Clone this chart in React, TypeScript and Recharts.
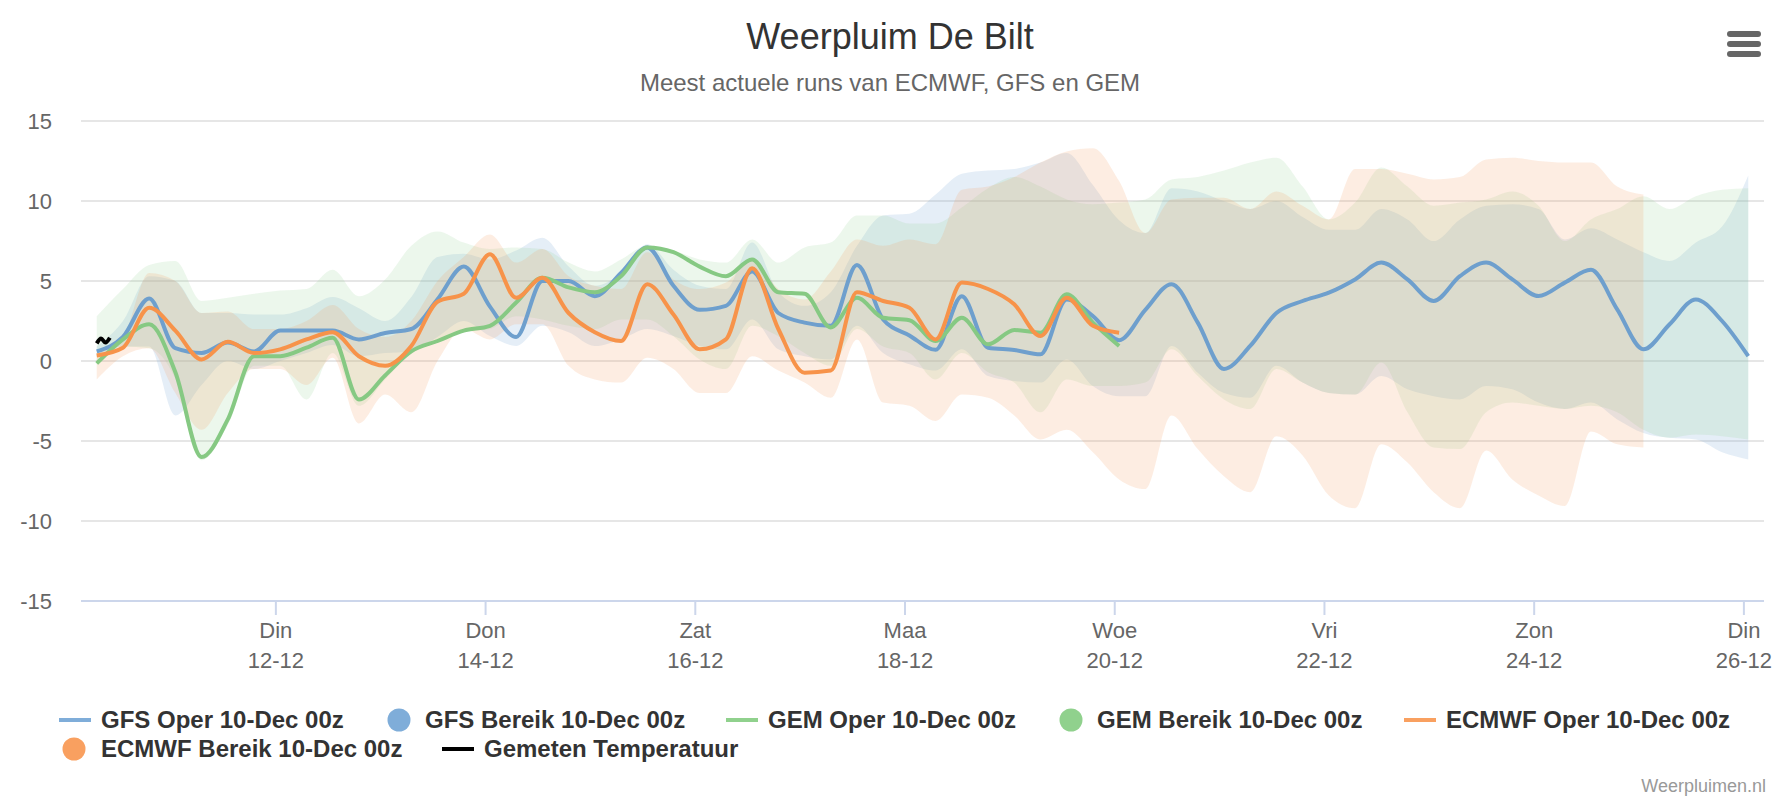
import React from 'react';
import { ComposedChart, Line, Area, XAxis, YAxis, CartesianGrid } from 'recharts';

// hours since 10-12 00:00
const hours = [7,13,19,25,31,37,43,49,55,61,67,73,79,85,91,97,103,109,115,121,127,133,139,145,151,157,163,169,175,181,187,193,199,205,211,217,223,229,235,241,247,253,259,265,271,277,283,289,295,301,307,313,319,325,331,337,343,349,355,361,367,373,379,385];

const gfsOper = [0.6,1.5,3.9,0.8,0.5,1.15,0.6,1.9,1.9,1.9,1.35,1.75,2.0,3.85,5.9,3.4,1.5,5.0,5.0,4.05,5.5,7.1,4.7,3.2,3.45,5.6,3.0,2.4,2.2,6.0,2.6,1.6,0.7,4.05,0.83,0.69,0.42,3.85,2.8,1.3,3.2,4.8,2.4,-0.5,0.94,3.0,3.75,4.27,5.1,6.15,5.1,3.75,5.3,6.15,5.1,4.06,4.9,5.7,3.23,0.73,2.3,3.85,2.5,0.3];
const gfsLow = [0.3,0.9,0.9,-3.4,-1.5,0.0,-0.5,0.0,0.5,1.0,0.3,0.5,0.6,1.5,2.5,1.56,0.94,2.2,1.8,0.94,1.35,2.0,1.56,0.94,0.73,2.6,0.73,0.3,0.1,2.2,0.5,-0.2,-0.6,0.73,-0.94,-1.25,-1.35,0.1,-1.56,-2.2,-2.2,0.94,-0.73,-2.0,-2.3,-0.3,-1.35,-2.0,-2.1,-0.94,-1.77,-2.2,-2.4,-1.56,-1.77,-2.6,-3.0,-2.6,-3.65,-4.5,-4.8,-4.9,-5.7,-6.15];
const gfsHigh = [0.9,2.5,5.3,5.0,3.0,3.0,2.9,2.9,3.3,4.0,3.3,2.5,4.0,6.5,6.7,6.35,6.9,7.7,5.9,4.7,5.5,7.3,5.7,4.7,4.5,7.4,4.3,3.45,4.3,7.2,9.1,9.2,10.4,11.7,11.9,12.0,12.4,13.0,11.0,8.8,8.0,10.8,10.6,10.0,9.5,10.0,9.0,8.2,8.2,9.5,8.85,7.5,8.85,9.7,9.8,9.5,7.6,8.3,7.6,6.8,6.25,7.4,8.4,11.6];

const gemOper = [-0.15,1.35,2.3,-0.7,-6.0,-3.65,0.3,0.3,0.83,1.45,-2.4,-0.9,0.6,1.25,1.9,2.2,3.65,5.2,4.6,4.3,5.3,7.1,6.8,5.9,5.3,6.35,4.3,4.2,2.1,3.95,2.7,2.55,1.25,2.7,1.04,1.94,1.77,4.17,2.4,0.94];
const gemLow = [-0.2,0.9,0.8,-1.1,-6.2,-4.0,-0.3,-0.3,-2.4,0.5,-2.8,-1.15,0.5,1.15,1.8,2.0,2.8,2.6,2.2,2.0,2.6,2.6,1.55,0.1,-0.5,2.2,1.55,0.5,-0.3,2.0,0.9,0.5,-1.15,0.5,-0.7,-1.35,-3.2,-1.15,-1.56,-1.56,-1.35,0.73,-0.94,-2.4,-3.0,-0.5,-1.35,-2.0,-2.1,-0.1,-3.2,-5.4,-5.5,-3.2,-2.6,-2.8,-3.0,-2.8,-3.2,-4.3,-4.8,-4.6,-4.7,-4.9];
const gemHigh = [2.8,4.5,6.0,6.25,3.75,3.95,4.2,4.4,4.5,5.7,4.05,5.1,7.2,8.1,7.4,7.0,7.1,7.0,6.15,5.6,6.35,7.2,6.9,6.35,6.15,7.6,6.15,7.1,7.4,9.1,9.1,8.6,8.6,9.6,10.8,11.5,10.9,10.1,9.8,9.9,10.1,11.35,11.5,11.9,12.4,12.7,10.9,8.85,9.9,12.1,10.9,9.7,9.9,10.1,10.6,9.7,7.5,8.85,9.5,10.3,9.5,10.3,10.7,10.8];

const ecmwfOper = [0.35,0.83,3.33,1.9,0.1,1.2,0.5,0.73,1.35,1.8,0.3,-0.3,0.94,3.7,4.2,6.67,3.95,5.2,3.0,1.8,1.25,4.8,2.9,0.73,1.35,5.8,2.0,-0.73,-0.6,4.3,3.75,3.33,1.35,4.9,4.5,3.54,1.56,3.96,2.2,1.77];
const ecmwfLow = [-1.15,0.3,0.8,-2.0,-4.3,-2.0,-0.5,-0.5,-1.5,0.2,-3.9,-2.1,-3.2,0.0,2.0,1.35,2.3,2.3,-0.3,-1.15,-1.35,0.2,-0.5,-2.0,-2.0,0.3,-0.6,-1.35,-2.3,1.35,-2.6,-2.8,-3.75,-2.1,-2.3,-3.4,-4.9,-4.3,-5.7,-7.4,-8.0,-3.4,-5.5,-7.2,-8.2,-4.7,-5.9,-8.4,-9.2,-5.2,-6.35,-8.2,-9.2,-5.6,-7.4,-8.4,-9.06,-4.4,-5.2,-5.4];
const ecmwfHigh = [0.5,1.5,5.5,5.0,3.0,3.1,2.0,2.0,2.5,3.5,2.0,1.5,2.5,5.0,6.5,7.9,6.15,7.0,5.3,4.7,4.5,6.8,5.1,4.5,4.9,6.35,4.5,3.85,5.6,7.6,7.2,7.6,7.3,10.7,10.9,11.5,12.4,13.1,13.3,11.25,8.0,10.1,10.2,10.2,9.5,10.6,9.7,8.85,12.0,12.0,11.7,11.35,11.5,12.6,12.7,12.5,12.4,12.4,10.9,10.4];

const obsHours = [7,8,9,10];
const obsTemp = [1.1,1.4,1.15,1.45];

const tickHours = [48,96,144,192,240,288,336,384];
const tickDays = ['Din','Don','Zat','Maa','Woe','Vri','Zon','Din'];
const tickDates = ['12-12','14-12','16-12','18-12','20-12','22-12','24-12','26-12'];
const yTicks = [-15,-10,-5,0,5,10,15];

const C = {
  gfsLine: '#6e9fcd', gfsFill: '#7caad8', gfsLegend: '#7fadd9',
  gemLine: '#86c983', gemFill: '#8fd08c', gemLegend: '#90d18d',
  ecLine: '#f7934a', ecFill: '#f7a064', ecLegend: '#f9a060',
};

const FONT = '"Liberation Sans", Arial, Helvetica, sans-serif';

const rows = hours.map((h, i) => ({
  h,
  gfs: gfsOper[i],
  gem: i < gemOper.length ? gemOper[i] : undefined,
  ec: i < ecmwfOper.length ? ecmwfOper[i] : undefined,
  gfsR: [gfsLow[i], gfsHigh[i]],
  gemR: [gemLow[i], gemHigh[i]],
  ecR: i < ecmwfLow.length ? [ecmwfLow[i], ecmwfHigh[i]] : undefined,
}));

const obsRows = obsHours.map((h, i) => ({ h, obs: obsTemp[i] }));

const XTick = (props: any) => {
  const { x, y, payload } = props;
  const idx = tickHours.indexOf(payload.value);
  return (
    <text x={x} y={y} textAnchor="middle" fill="#666666" fontSize={22} fontFamily={FONT}>
      <tspan x={x} dy={21}>{tickDays[idx]}</tspan>
      <tspan x={x} dy={30}>{tickDates[idx]}</tspan>
    </text>
  );
};

const legendRow1 = [
  { kind: 'line', color: C.gfsLegend, label: 'GFS Oper 10-Dec 00z', sx: 59, tx: 101 },
  { kind: 'dot', color: C.gfsLegend, label: 'GFS Bereik 10-Dec 00z', sx: 399, tx: 425 },
  { kind: 'line', color: C.gemLegend, label: 'GEM Oper 10-Dec 00z', sx: 726, tx: 768 },
  { kind: 'dot', color: C.gemLegend, label: 'GEM Bereik 10-Dec 00z', sx: 1071, tx: 1097 },
  { kind: 'line', color: C.ecLegend, label: 'ECMWF Oper 10-Dec 00z', sx: 1404, tx: 1446 },
];
const legendRow2 = [
  { kind: 'dot', color: C.ecLegend, label: 'ECMWF Bereik 10-Dec 00z', sx: 74, tx: 101 },
  { kind: 'line', color: '#000000', label: 'Gemeten Temperatuur', sx: 442, tx: 484 },
];

const LegendItems = ({ items, baseline }: { items: any[]; baseline: number }) => (
  <g>
    {items.map((it) => (
      <g key={it.label}>
        {it.kind === 'line' ? (
          <rect x={it.sx} y={baseline - 10} width={32} height={4} fill={it.color} />
        ) : (
          <circle cx={it.sx} cy={baseline - 8} r={11.5} fill={it.color} />
        )}
        <text x={it.tx} y={baseline} fontSize={24} fontWeight="bold" fill="#333333" fontFamily={FONT}>
          {it.label}
        </text>
      </g>
    ))}
  </g>
);

export default function App() {
  return (
    <div style={{ position: 'absolute', left: 0, top: 0, width: 1781, height: 800, background: '#ffffff', fontFamily: FONT }}>
      <ComposedChart
        width={1781}
        height={800}
        data={rows}
        margin={{ top: 121, right: 17, bottom: 139, left: 0 }}
      >
        <CartesianGrid horizontal vertical={false} stroke="#e6e6e6" strokeWidth={2} />
        <XAxis
          dataKey="h"
          type="number"
          domain={[3.4, 388.6]}
          ticks={tickHours}
          allowDataOverflow
          height={60}
          axisLine={{ stroke: '#ccd6eb', strokeWidth: 2 }}
          tickLine={{ stroke: '#ccd6eb', strokeWidth: 2 }}
          tickSize={14}
          tickMargin={2}
          tick={<XTick />}
        />
        <YAxis
          type="number"
          domain={[-15, 15]}
          ticks={yTicks}
          width={81}
          axisLine={false}
          tickLine={false}
          tickSize={0}
          tickMargin={29}
          tick={{ fill: '#666666', fontSize: 22, fontFamily: FONT }}
          allowDataOverflow
        />
        <Area type="monotone" dataKey="gfsR" fill={C.gfsFill} fillOpacity={0.2} stroke="none" dot={false} activeDot={false} isAnimationActive={false} />
        <Area type="monotone" dataKey="gemR" fill={C.gemFill} fillOpacity={0.17} stroke="none" dot={false} activeDot={false} isAnimationActive={false} />
        <Area type="monotone" dataKey="ecR" fill={C.ecFill} fillOpacity={0.19} stroke="none" dot={false} activeDot={false} isAnimationActive={false} />
        <Line type="monotone" dataKey="gfs" stroke={C.gfsLine} strokeWidth={4} dot={false} activeDot={false} isAnimationActive={false} />
        <Line type="monotone" dataKey="gem" stroke={C.gemLine} strokeWidth={4} dot={false} activeDot={false} isAnimationActive={false} />
        <Line type="monotone" dataKey="ec" stroke={C.ecLine} strokeWidth={4} dot={false} activeDot={false} isAnimationActive={false} />
        <Line data={obsRows} type="monotone" dataKey="obs" stroke="#000000" strokeWidth={4} dot={false} activeDot={false} isAnimationActive={false} />
      </ComposedChart>
      <svg width={1781} height={800} style={{ position: 'absolute', left: 0, top: 0, pointerEvents: 'none' }}>
        <text x={890} y={49} textAnchor="middle" fontSize={36} fill="#333333" fontFamily={FONT}>Weerpluim De Bilt</text>
        <text x={890} y={91} textAnchor="middle" fontSize={24} fill="#666666" fontFamily={FONT}>Meest actuele runs van ECMWF, GFS en GEM</text>
        <g fill="#666666">
          <rect x={1727} y={31} width={34} height={6} rx={3} />
          <rect x={1727} y={41} width={34} height={6} rx={3} />
          <rect x={1727} y={51} width={34} height={6} rx={3} />
        </g>
        <LegendItems items={legendRow1} baseline={728} />
        <LegendItems items={legendRow2} baseline={757} />
        <text x={1766} y={792} textAnchor="end" fontSize={18} fill="#999999" fontFamily={FONT}>Weerpluimen.nl</text>
      </svg>
    </div>
  );
}
